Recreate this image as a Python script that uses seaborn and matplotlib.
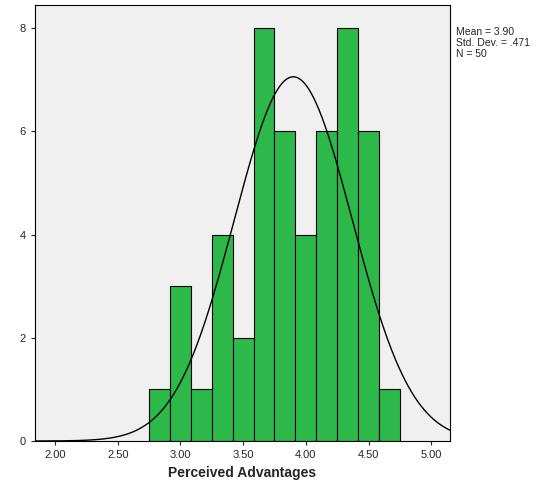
import numpy as np
import pandas as pd
import matplotlib
matplotlib.use("Agg")
import matplotlib.pyplot as plt
import seaborn as sns

bin_centers = [2.833, 3.0, 3.167, 3.333, 3.5, 3.667, 3.833, 4.0, 4.167, 4.333, 4.5, 4.667]
counts = [1, 3, 1, 4, 2, 8, 6, 4, 6, 8, 6, 1]
mean, sd, n = 3.90, 0.471, 50
xticks = [2.00, 2.50, 3.00, 3.50, 4.00, 4.50, 5.00]
yticks = [0, 2, 4, 6, 8]

sns.set_style("white")
plt.rcParams['font.family'] = ['Arial', 'Liberation Sans', 'DejaVu Sans']
fig = plt.figure(figsize=(5.48, 5.01), dpi=100)
ax = fig.add_axes([35/548, 1-441/501, 415/548, 436/501])
ax.set_facecolor("#F0F0F0")
df = pd.DataFrame({"x": bin_centers, "w": counts})
bw = 2.0 / 12
sns.histplot(data=df, x="x", weights="w", binwidth=bw, binrange=(2.75, 4.75),
             color="#2DB84A", alpha=1, edgecolor="black", linewidth=0.8, ax=ax)
xs = np.linspace(1.84, 5.15, 400)
ys = n * bw / (sd * np.sqrt(2 * np.pi)) * np.exp(-0.5 * ((xs - mean) / sd) ** 2)
ax.plot(xs, ys, color="black", lw=1)
ax.set_xlim(1.84, 5.15)
ax.set_ylim(0, 8.45)
ax.set_xticks(xticks)
ax.set_xticklabels([f"{t:.2f}" for t in xticks], fontsize=8)
ax.set_yticks(yticks)
ax.set_yticklabels([str(t) for t in yticks], fontsize=8)
ax.tick_params(length=3, direction="out", bottom=True, left=True)
ax.set_xlabel("Perceived Advantages", fontsize=10, fontweight="bold")
ax.set_ylabel("")
for s in ax.spines.values():
    s.set_color("black"); s.set_linewidth(0.8)
fig.text(456/548, 1-27/501, "Mean = 3.90\nStd. Dev. = .471\nN = 50", fontsize=7.5,
         va="top", ha="left", linespacing=1.1)
fig.savefig("out.png", dpi=100)
